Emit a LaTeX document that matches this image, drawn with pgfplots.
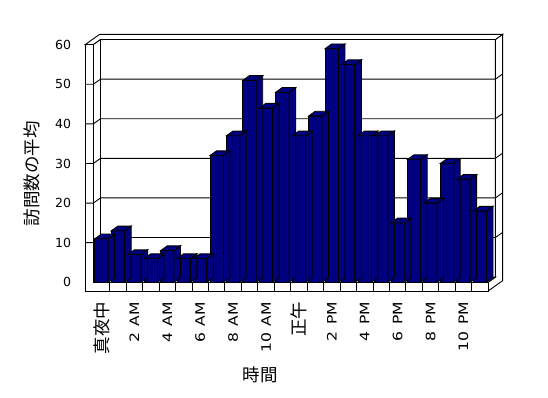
\documentclass[border=0pt]{standalone}
\usepackage{fontspec}
\setmainfont{DejaVu Sans}
\newfontfamily\jpfont{Noto Sans CJK JP}
\newfontfamily\xfont[FakeStretch=1.2]{DejaVu Sans}
\usepackage{pgfplots}
\usepackage{pgfplotstable}
\pgfplotsset{compat=1.18}
\definecolor{navy}{RGB}{0,0,128}
\newcommand\jp{\fontsize{17.5}{18}\selectfont\jpfont}
\newcommand\ytl{\fontsize{12.5}{14}\selectfont}
\newcommand\xtl{\xfont\fontsize{13}{15}\selectfont\spaceskip=7pt\relax}

\pgfplotstableread{
x v
0 11
1 13
2 7
3 6
4 8
5 6
6 6
7 32
8 37
9 51
10 44
11 48
12 37
13 42
14 59
15 55
16 37
17 37
18 15
19 31
20 20
21 30
22 26
23 18
}\visits

\pgfdeclareplotmark{bar3d}{%
  \pgfmathsetmacro\hb{4.7-\yval*3.96}%
  \pgfmathsetmacro\hc{-\yval*3.96}%
  \pgfpathmoveto{\pgfpoint{6.66pt}{0pt}}%
  \pgfpathlineto{\pgfpoint{13.16pt}{4.7pt}}%
  \pgfpathlineto{\pgfpoint{13.16pt}{\hb pt}}%
  \pgfpathlineto{\pgfpoint{6.66pt}{\hc pt}}%
  \pgfpathclose
  \pgfusepathqfillstroke
  \pgfpathmoveto{\pgfpoint{-6.66pt}{0pt}}%
  \pgfpathlineto{\pgfpoint{-0.16pt}{4.7pt}}%
  \pgfpathlineto{\pgfpoint{13.16pt}{4.7pt}}%
  \pgfpathlineto{\pgfpoint{6.66pt}{0pt}}%
  \pgfpathclose
  \pgfusepathqfillstroke
}

\begin{document}
\begin{tikzpicture}
\fill[white] (0,0) rectangle (548pt,398pt);
\useasboundingbox (0,0) rectangle (548pt,398pt);
\begin{scope}[shift={(101.525pt,115.7pt)}, x=16.45pt, y=3.96pt, line width=0.9pt, line join=miter]
  % back wall front face
  \filldraw[fill=white, draw=black] (-0.06,1.3) rectangle (23.94,61.3);
  % right face (floor + back wall)
  \filldraw[fill=white, draw=black] (23.5,-2.2)--(23.5,0)--(23.94,1.3)--(23.94,61.3)--(24.38,62.6)--(24.38,0.4)--cycle;
  % top face
  \filldraw[fill=white, draw=black] (-1,60)--(-0.5,60)--(-0.06,61.3)--(23.94,61.3)--(24.38,62.6)--(-0.12,62.6)--cycle;
  % left wall inner face
  \filldraw[fill=white, draw=black] (-0.5,0)--(-0.5,60)--(-0.06,61.3)--(-0.06,1.3)--cycle;
  % floor top
  \filldraw[fill=white, draw=black] (-0.5,0)--(23.5,0)--(23.94,1.3)--(-0.06,1.3)--cycle;
  % front L shape
  \filldraw[fill=white, draw=black] (-1,-2.2)--(23.5,-2.2)--(23.5,0)--(-0.5,0)--(-0.5,60)--(-1,60)--cycle;
  % grid lines
  \foreach \v in {10,20,...,50}{
    \draw (-1,\v)--(-0.5,\v)--(-0.06,\v+1.3)--(23.94,\v+1.3)--(24.38,\v+2.6);
  }
  % floor front ticks
  \foreach \k in {0.5,1.5,...,22.5}{
    \draw (\k,-2.2)--(\k,0);
  }
\end{scope}
\begin{axis}[
  at={(93.3pt,115.7pt)}, anchor=south west,
  scale only axis, width=394.8pt, height=237.6pt,
  xmin=-0.5, xmax=23.5, ymin=0, ymax=60,
  clip=false,
  axis line style={draw=none},
  tick style={draw=none},
  xtick={0,2,...,22},
  xticklabels={{\jp 真夜中},{2 AM},{4 AM},{6 AM},{8 AM},{10 AM},{\jp 正午},{2 PM},{4 PM},{6 PM},{8 PM},{10 PM}},
  ytick={0,10,...,60},
  /pgf/number format/assume math mode=true,
  xticklabel style={font=\xtl, rotate=90, anchor=east, inner sep=0pt},
  xticklabel shift=19.4pt,
  yticklabel style={font=\ytl, anchor=east, inner sep=0pt},
  yticklabel shift=22pt,
  xlabel={\jp 時間},
  ylabel={\jp 訪問数の平均},
  xlabel style={at={(axis description cs:0.4235,-0.39)}, anchor=center, inner sep=0pt},
  ylabel style={at={(axis description cs:-0.155,0.456)}, anchor=center, inner sep=0pt},
]
\addplot[only marks, mark=bar3d, visualization depends on={\thisrow{v} \as \yval},
  mark options={fill=navy, draw=black, line width=0.9pt, line join=miter}]
  table[x=x, y=v] {\visits};
\addplot[ybar, bar width=0.81, fill=navy, draw=black, line width=0.9pt]
  table[x=x, y=v] {\visits};
\end{axis}
\end{tikzpicture}
\end{document}
